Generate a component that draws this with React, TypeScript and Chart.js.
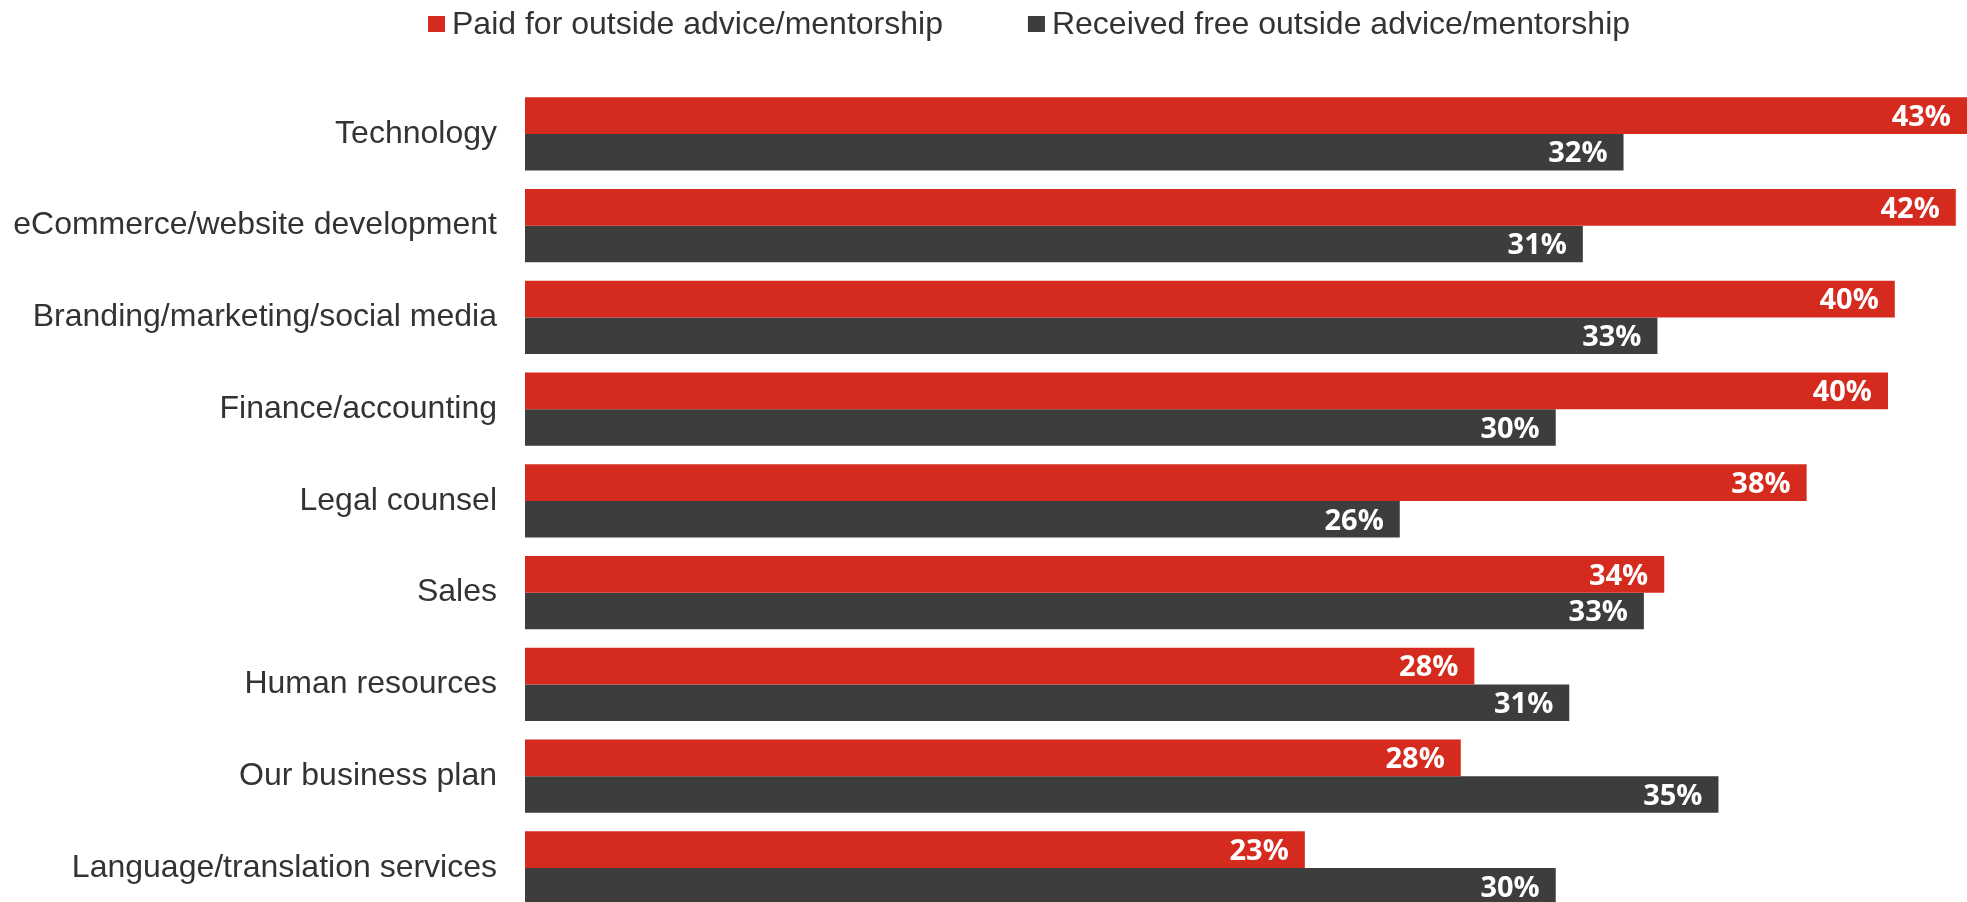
import React, { useEffect, useRef } from "react";
import { Chart, registerables } from "chart.js";

Chart.register(...registerables);

const categories = [
  "Technology",
  "eCommerce/website development",
  "Branding/marketing/social media",
  "Finance/accounting",
  "Legal counsel",
  "Sales",
  "Human resources",
  "Our business plan",
  "Language/translation services",
];

const paidValues = [43.0, 42.2, 40.4, 40.2, 37.8, 33.6, 28.0, 27.6, 23.0];
const freeValues = [32.4, 31.2, 33.4, 30.4, 25.8, 33.0, 30.8, 35.2, 30.4];

const seriesNames = [
  "Paid for outside advice/mentorship",
  "Received free outside advice/mentorship",
];

const RED = "#D52B1F";
const DARK = "#3D3D3D";
const TEXT = "#333333";

const valueLabelPlugin = {
  id: "valueLabels",
  afterDatasetsDraw(chart: any) {
    const { ctx, chartArea } = chart;
    ctx.save();
    ctx.font = "bold 29px 'Open Sans'";
    ctx.fillStyle = "#ffffff";
    ctx.textAlign = "right";
    ctx.textBaseline = "middle";
    chart.data.datasets.forEach((ds: any, di: number) => {
      const meta = chart.getDatasetMeta(di);
      meta.data.forEach((bar: any, i: number) => {
        const end = Math.min(bar.x, chartArea.right);
        ctx.fillText(Math.round(ds.data[i]) + "%", end - 16, bar.y + 2);
      });
    });
    ctx.restore();
  },
};

const legendPlugin = {
  id: "customLegend",
  afterDraw(chart: any) {
    const { ctx } = chart;
    ctx.save();
    ctx.font = "32px 'Liberation Sans', Arial, sans-serif";
    ctx.textBaseline = "middle";
    ctx.textAlign = "left";
    let x = 428;
    const yc = 24;
    chart.data.datasets.forEach((ds: any) => {
      ctx.fillStyle = ds.backgroundColor;
      ctx.fillRect(x, yc - 8, 17, 16);
      ctx.fillStyle = TEXT;
      ctx.fillText(ds.label, x + 24, yc + 1);
      x += 24 + ctx.measureText(ds.label).width + 85;
    });
    ctx.restore();
  },
};

export default function App() {
  const ref = useRef<HTMLCanvasElement | null>(null);
  useEffect(() => {
    if (!ref.current) return;
    const chart = new Chart(ref.current, {
      type: "bar",
      data: {
        labels: categories,
        datasets: [
          {
            label: seriesNames[0],
            data: paidValues,
            backgroundColor: RED,
            borderWidth: 0,
            barPercentage: 1,
            categoryPercentage: 0.8,
            clip: 0,
          },
          {
            label: seriesNames[1],
            data: freeValues,
            backgroundColor: DARK,
            borderWidth: 0,
            barPercentage: 1,
            categoryPercentage: 0.8,
            clip: 0,
          },
        ],
      },
      options: {
        indexAxis: "y",
        responsive: false,
        animation: false,
        devicePixelRatio: 1,
        layout: { padding: { top: 88, bottom: 0, left: 0, right: 0 } },
        plugins: {
          legend: { display: false },
          tooltip: { enabled: false },
        },
        scales: {
          x: {
            display: false,
            min: 0,
            max: 42.53,
          },
          y: {
            grid: { display: false, drawTicks: false },
            border: { display: false },
            ticks: {
              padding: 28,
              color: TEXT,
              font: { family: "'Liberation Sans', Arial, sans-serif", size: 32 },
            },
            afterFit(scale: any) {
              scale.width = 525;
            },
          },
        },
      },
      plugins: [valueLabelPlugin, legendPlugin],
    } as any);
    return () => chart.destroy();
  }, []);

  return (
    <div
      style={{
        position: "fixed",
        left: 0,
        top: 0,
        width: 1967,
        height: 902,
        overflow: "hidden",
        background: "#fff",
      }}
    >
      <canvas ref={ref} width={1967} height={961} style={{ display: "block" }} />
    </div>
  );
}
